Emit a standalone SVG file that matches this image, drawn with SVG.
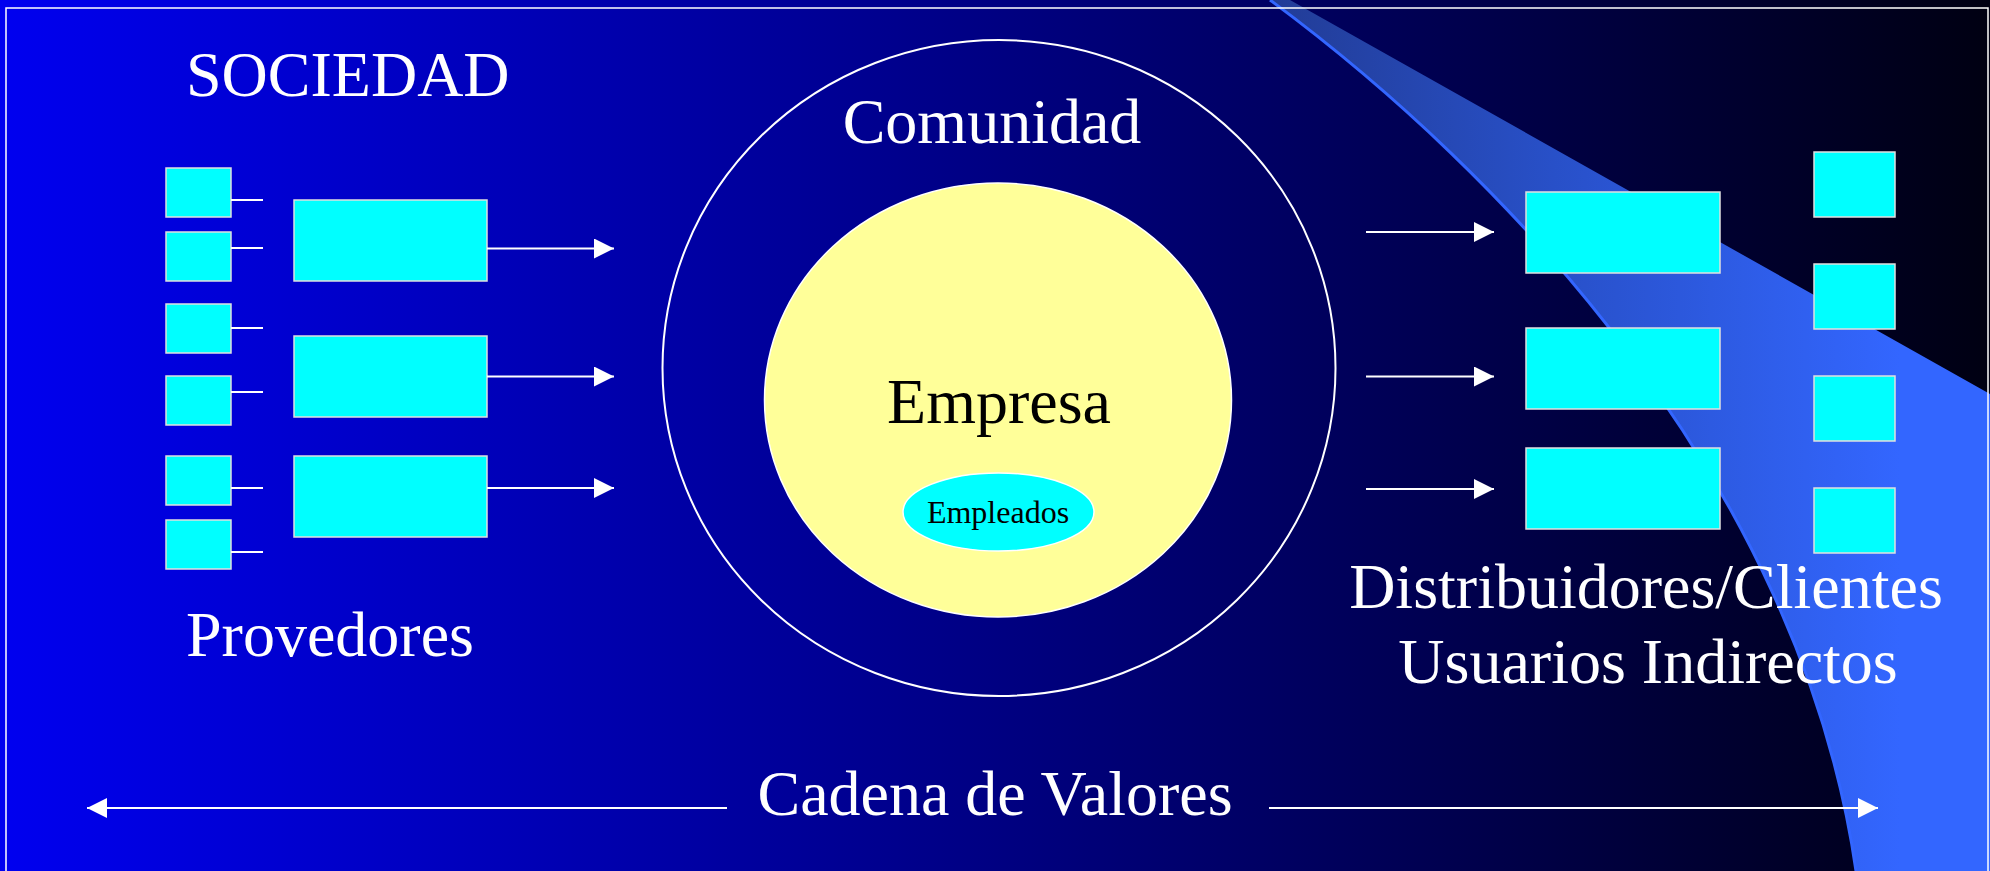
<svg xmlns="http://www.w3.org/2000/svg" width="1990" height="871" viewBox="0 0 1990 871">
<defs>
<linearGradient id="bg" x1="0" y1="0" x2="1990" y2="0" gradientUnits="userSpaceOnUse">
<stop offset="0" stop-color="#0000F0"/>
<stop offset="0.5" stop-color="#000082"/>
<stop offset="1" stop-color="#000012"/>
</linearGradient>
<linearGradient id="band" x1="1270" y1="0" x2="1900" y2="0" gradientUnits="userSpaceOnUse">
<stop offset="0" stop-color="#223C96"/>
<stop offset="0.45" stop-color="#2850C8"/>
<stop offset="1" stop-color="#3366FF"/>
</linearGradient>
<marker id="ah" markerUnits="userSpaceOnUse" markerWidth="22" markerHeight="22" refX="20" refY="10" orient="auto">
<path d="M0,0 L20,10 L0,20 z" fill="#FFFFFF"/>
</marker>
<style>
.t{font-family:"Liberation Serif","Times New Roman",serif;font-size:64px;fill:#FFFFFF}
.tc{text-anchor:middle}
.box{fill:#00FFFF;stroke:#E0E0E0;stroke-width:1.5}
.ln{stroke:#FFFFFF;stroke-width:2;fill:none}
.arr{stroke:#FFFFFF;stroke-width:2;fill:none;marker-end:url(#ah)}
</style>
</defs>
<g id="background">
<rect x="0" y="0" width="1990" height="871" fill="url(#bg)"/>
<path d="M1270,0 C1500,170 1800,480 1856,871 L1990,871 L1990,394 L1290,0 Z" fill="url(#band)"/>
<path d="M1270,0 C1500,170 1800,480 1856,871" fill="none" stroke="#3366FF" stroke-width="3"/>
<rect x="6" y="8" width="1982" height="900" fill="none" stroke="#FFFFFF" stroke-width="1.5"/>
</g>
<g id="sociedad"><text class="t" x="186" y="96">SOCIEDAD</text></g>
<g id="comunidad">
<ellipse cx="999" cy="368" rx="336.5" ry="328" fill="none" stroke="#FFFFFF" stroke-width="2"/>
<text class="t tc" x="992" y="143">Comunidad</text>
</g>
<g id="empresa">
<ellipse cx="998" cy="400" rx="233.5" ry="217" fill="#FFFF99" stroke="#FFFFFF" stroke-width="1.5"/>
<text class="t tc" x="999" y="423" style="fill:#000000">Empresa</text>
</g>
<g id="empleados">
<ellipse cx="998.5" cy="512" rx="95.5" ry="39" fill="#00FFFF" stroke="#FFFFFF" stroke-width="1.5"/>
<text class="t tc" x="998" y="523" style="fill:#000000;font-size:32px">Empleados</text>
</g>
<g id="proveedores-small">
<rect class="box" x="166" y="168" width="65" height="49"/>
<rect class="box" x="166" y="232" width="65" height="49"/>
<rect class="box" x="166" y="304" width="65" height="49"/>
<rect class="box" x="166" y="376" width="65" height="49"/>
<rect class="box" x="166" y="456" width="65" height="49"/>
<rect class="box" x="166" y="520" width="65" height="49"/>
</g>
<g id="proveedores-large">
<rect class="box" x="294" y="200" width="193" height="81"/>
<rect class="box" x="294" y="336" width="193" height="81"/>
<rect class="box" x="294" y="456" width="193" height="81"/>
</g>
<g id="provedores-label"><text class="t" x="186" y="656">Provedores</text></g>
<g id="distribuidores-large">
<rect class="box" x="1526" y="192" width="194" height="81"/>
<rect class="box" x="1526" y="328" width="194" height="81"/>
<rect class="box" x="1526" y="448" width="194" height="81"/>
</g>
<g id="clientes-small">
<rect class="box" x="1814" y="152" width="81" height="65"/>
<rect class="box" x="1814" y="264" width="81" height="65"/>
<rect class="box" x="1814" y="376" width="81" height="65"/>
<rect class="box" x="1814" y="488" width="81" height="65"/>
</g>
<g id="distribuidores-label">
<text class="t tc" x="1646" y="608">Distribuidores/Clientes</text>
<text class="t tc" x="1648" y="683">Usuarios Indirectos</text>
</g>
<g id="cadena-label"><text class="t tc" x="995" y="815">Cadena de Valores</text></g>
<g id="connectors">
<line class="ln" x1="231" y1="200" x2="263" y2="200"/>
<line class="ln" x1="231" y1="248" x2="263" y2="248"/>
<line class="ln" x1="231" y1="328" x2="263" y2="328"/>
<line class="ln" x1="231" y1="392" x2="263" y2="392"/>
<line class="ln" x1="231" y1="488" x2="263" y2="488"/>
<line class="ln" x1="231" y1="552" x2="263" y2="552"/>
<line class="arr" x1="487" y1="248.5" x2="614" y2="248.5"/>
<line class="arr" x1="487" y1="376.5" x2="614" y2="376.5"/>
<line class="arr" x1="487" y1="488" x2="614" y2="488"/>
<line class="arr" x1="1366" y1="232" x2="1494" y2="232"/>
<line class="arr" x1="1366" y1="376.5" x2="1494" y2="376.5"/>
<line class="arr" x1="1366" y1="489" x2="1494" y2="489"/>
<line class="arr" x1="727" y1="808" x2="87" y2="808"/>
<line class="arr" x1="1269" y1="808" x2="1878" y2="808"/>
</g>
</svg>
